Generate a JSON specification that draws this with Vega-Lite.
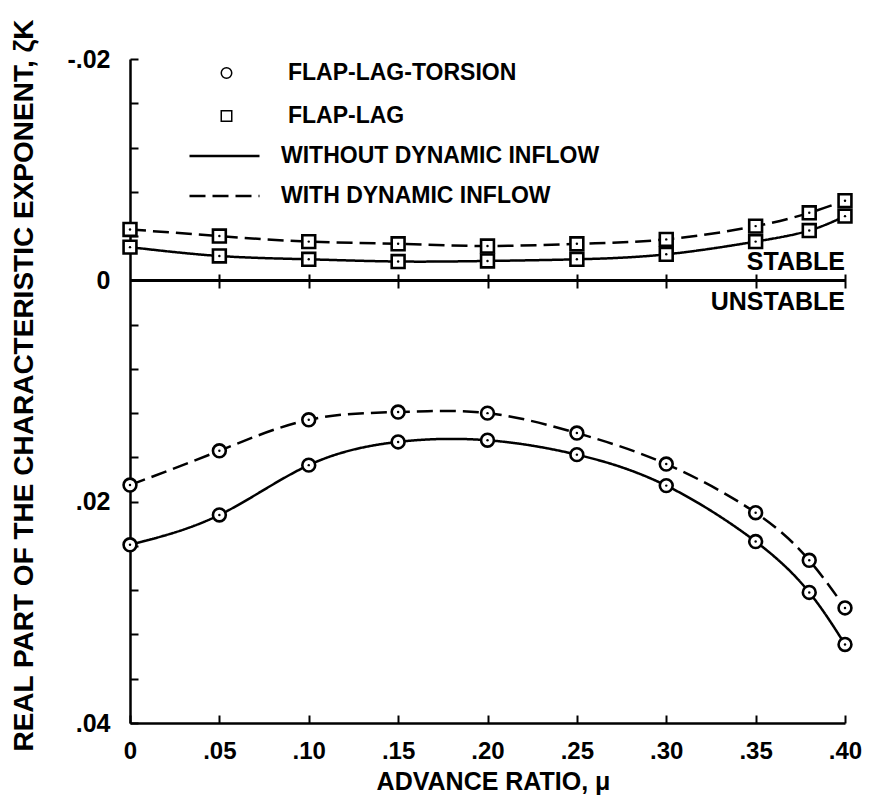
{
  "$schema": "https://vega.github.io/schema/vega-lite/v6.json",
  "width": 715,
  "height": 664,
  "autosize": {"type": "none"},
  "padding": {"left": 130, "top": 59, "right": 27, "bottom": 79},
  "background": "white",
  "config": {
    "view": {"stroke": null},
    "font": "Liberation Sans",
    "axis": {
      "domainColor": "black", "domainWidth": 2.5, "tickColor": "black", "tickWidth": 2,
      "labelColor": "black", "titleColor": "black", "labelFont": "Liberation Sans", "labelFontSize": 24,
      "labelFontWeight": "bold", "titleFont": "Liberation Sans", "titleFontSize": 25, "titleFontWeight": "bold", "grid": false
    },
    "legend": {"labelFont": "Liberation Sans", "labelColor": "black", "labelLimit": 0}
  },
  "resolve": {"axis": {"x": "independent"}},
  "datasets": {
    "curves": [
      {"mu": 0.00, "zeta": 0.0239, "model": "FLAP-LAG-TORSION", "inflow": "WITHOUT DYNAMIC INFLOW"},
      {"mu": 0.05, "zeta": 0.0212, "model": "FLAP-LAG-TORSION", "inflow": "WITHOUT DYNAMIC INFLOW"},
      {"mu": 0.10, "zeta": 0.0167, "model": "FLAP-LAG-TORSION", "inflow": "WITHOUT DYNAMIC INFLOW"},
      {"mu": 0.15, "zeta": 0.0146, "model": "FLAP-LAG-TORSION", "inflow": "WITHOUT DYNAMIC INFLOW"},
      {"mu": 0.20, "zeta": 0.01445, "model": "FLAP-LAG-TORSION", "inflow": "WITHOUT DYNAMIC INFLOW"},
      {"mu": 0.25, "zeta": 0.01575, "model": "FLAP-LAG-TORSION", "inflow": "WITHOUT DYNAMIC INFLOW"},
      {"mu": 0.30, "zeta": 0.01855, "model": "FLAP-LAG-TORSION", "inflow": "WITHOUT DYNAMIC INFLOW"},
      {"mu": 0.35, "zeta": 0.0236, "model": "FLAP-LAG-TORSION", "inflow": "WITHOUT DYNAMIC INFLOW"},
      {"mu": 0.38, "zeta": 0.0282, "model": "FLAP-LAG-TORSION", "inflow": "WITHOUT DYNAMIC INFLOW"},
      {"mu": 0.40, "zeta": 0.0329, "model": "FLAP-LAG-TORSION", "inflow": "WITHOUT DYNAMIC INFLOW"},
      {"mu": 0.00, "zeta": 0.0185, "model": "FLAP-LAG-TORSION", "inflow": "WITH DYNAMIC INFLOW"},
      {"mu": 0.05, "zeta": 0.0154, "model": "FLAP-LAG-TORSION", "inflow": "WITH DYNAMIC INFLOW"},
      {"mu": 0.10, "zeta": 0.0126, "model": "FLAP-LAG-TORSION", "inflow": "WITH DYNAMIC INFLOW"},
      {"mu": 0.15, "zeta": 0.0119, "model": "FLAP-LAG-TORSION", "inflow": "WITH DYNAMIC INFLOW"},
      {"mu": 0.20, "zeta": 0.0120, "model": "FLAP-LAG-TORSION", "inflow": "WITH DYNAMIC INFLOW"},
      {"mu": 0.25, "zeta": 0.0138, "model": "FLAP-LAG-TORSION", "inflow": "WITH DYNAMIC INFLOW"},
      {"mu": 0.30, "zeta": 0.0166, "model": "FLAP-LAG-TORSION", "inflow": "WITH DYNAMIC INFLOW"},
      {"mu": 0.35, "zeta": 0.0210, "model": "FLAP-LAG-TORSION", "inflow": "WITH DYNAMIC INFLOW"},
      {"mu": 0.38, "zeta": 0.0253, "model": "FLAP-LAG-TORSION", "inflow": "WITH DYNAMIC INFLOW"},
      {"mu": 0.40, "zeta": 0.0296, "model": "FLAP-LAG-TORSION", "inflow": "WITH DYNAMIC INFLOW"},
      {"mu": 0.00, "zeta": -0.0030, "model": "FLAP-LAG", "inflow": "WITHOUT DYNAMIC INFLOW"},
      {"mu": 0.05, "zeta": -0.0022, "model": "FLAP-LAG", "inflow": "WITHOUT DYNAMIC INFLOW"},
      {"mu": 0.10, "zeta": -0.0019, "model": "FLAP-LAG", "inflow": "WITHOUT DYNAMIC INFLOW"},
      {"mu": 0.15, "zeta": -0.0017, "model": "FLAP-LAG", "inflow": "WITHOUT DYNAMIC INFLOW"},
      {"mu": 0.20, "zeta": -0.00175, "model": "FLAP-LAG", "inflow": "WITHOUT DYNAMIC INFLOW"},
      {"mu": 0.25, "zeta": -0.0019, "model": "FLAP-LAG", "inflow": "WITHOUT DYNAMIC INFLOW"},
      {"mu": 0.30, "zeta": -0.00235, "model": "FLAP-LAG", "inflow": "WITHOUT DYNAMIC INFLOW"},
      {"mu": 0.35, "zeta": -0.0035, "model": "FLAP-LAG", "inflow": "WITHOUT DYNAMIC INFLOW"},
      {"mu": 0.38, "zeta": -0.0045, "model": "FLAP-LAG", "inflow": "WITHOUT DYNAMIC INFLOW"},
      {"mu": 0.40, "zeta": -0.0058, "model": "FLAP-LAG", "inflow": "WITHOUT DYNAMIC INFLOW"},
      {"mu": 0.00, "zeta": -0.0046, "model": "FLAP-LAG", "inflow": "WITH DYNAMIC INFLOW"},
      {"mu": 0.05, "zeta": -0.0040, "model": "FLAP-LAG", "inflow": "WITH DYNAMIC INFLOW"},
      {"mu": 0.10, "zeta": -0.0035, "model": "FLAP-LAG", "inflow": "WITH DYNAMIC INFLOW"},
      {"mu": 0.15, "zeta": -0.0033, "model": "FLAP-LAG", "inflow": "WITH DYNAMIC INFLOW"},
      {"mu": 0.20, "zeta": -0.0031, "model": "FLAP-LAG", "inflow": "WITH DYNAMIC INFLOW"},
      {"mu": 0.25, "zeta": -0.0033, "model": "FLAP-LAG", "inflow": "WITH DYNAMIC INFLOW"},
      {"mu": 0.30, "zeta": -0.0037, "model": "FLAP-LAG", "inflow": "WITH DYNAMIC INFLOW"},
      {"mu": 0.35, "zeta": -0.0049, "model": "FLAP-LAG", "inflow": "WITH DYNAMIC INFLOW"},
      {"mu": 0.38, "zeta": -0.0061, "model": "FLAP-LAG", "inflow": "WITH DYNAMIC INFLOW"},
      {"mu": 0.40, "zeta": -0.0072, "model": "FLAP-LAG", "inflow": "WITH DYNAMIC INFLOW"}
    ],
    "labels": [
      {"mu": 0.40, "zeta": 0, "label": "STABLE"},
      {"mu": 0.40, "zeta": 0, "label": "UNSTABLE"}
    ]
  },
  "layer": [
    {
      "data": {"name": "curves"},
      "mark": {"type": "line", "color": "black", "strokeWidth": 2.5, "interpolate": "natural"},
      "encoding": {
        "x": {
          "field": "mu", "type": "quantitative",
          "scale": {"domain": [0, 0.4], "nice": false, "zero": false},
          "axis": {
            "values": [0, 0.05, 0.1, 0.15, 0.2, 0.25, 0.3, 0.35, 0.4],
            "labelExpr": "datum.value == 0 ? '0' : replace(format(datum.value, '.2f'), '0.', '.')",
            "tickSize": -8, "labelPadding": 24, "labelFlush": false, "labelBound": false, "labelOverlap": false,
            "title": "ADVANCE RATIO, μ", "titleX": 363, "titleY": 58, "titleBaseline": "middle", "titleAlign": "center"
          }
        },
        "y": {
          "field": "zeta", "type": "quantitative",
          "scale": {"domain": [-0.02, 0.04], "reverse": true, "nice": false, "zero": false},
          "axis": {
            "values": [-0.02, -0.016, -0.012, -0.008, -0.004, 0, 0.004, 0.008, 0.012, 0.016, 0.02, 0.024, 0.028, 0.032, 0.036, 0.04],
            "labelExpr": "abs(datum.value + 0.02) < 1e-9 ? '-.02' : abs(datum.value) < 1e-9 ? '0' : abs(datum.value - 0.02) < 1e-9 ? '.02' : abs(datum.value - 0.04) < 1e-9 ? '.04' : ''",
            "labelFontSize": 25, "tickSize": -8, "labelPadding": 28, "labelOverlap": false, "labelFlush": false, "labelBound": false,
            "title": "REAL PART OF THE CHARACTERISTIC EXPONENT, ζK", "titleFontSize": 28, "titleX": -106, "titleY": 326, "titleBaseline": "middle", "titleAlign": "center"
          }
        },
        "detail": {"field": "model", "type": "nominal"},
        "strokeDash": {
          "field": "inflow", "type": "nominal",
          "scale": {"domain": ["WITHOUT DYNAMIC INFLOW", "WITH DYNAMIC INFLOW"], "range": [[1, 0], [16, 7]]},
          "legend": {
            "title": null, "orient": "none", "legendX": 58, "legendY": 86, "symbolType": "stroke", "symbolSize": 4900,
            "symbolStrokeWidth": 2.5, "symbolStrokeColor": "black", "labelFontSize": 23, "labelFontWeight": "bold",
            "labelOffset": 20, "clipHeight": 22, "rowPadding": 17, "padding": 0, "labelLimit": 0
          }
        }
      }
    },
    {
      "data": {"name": "curves"},
      "mark": {"type": "rule", "color": "black", "strokeWidth": 2.5},
      "encoding": {
        "y": {"datum": 0, "type": "quantitative"}
      }
    },
    {
      "data": {"name": "curves"},
      "mark": {"type": "point", "filled": false, "color": "black", "fill": "white", "fillOpacity": 1, "stroke": "black", "strokeWidth": 2.6, "size": 165, "opacity": 1},
      "encoding": {
        "x": {"field": "mu", "type": "quantitative", "axis": null},
        "y": {"field": "zeta", "type": "quantitative"},
        "shape": {
          "field": "model", "type": "nominal",
          "scale": {"domain": ["FLAP-LAG-TORSION", "FLAP-LAG"], "range": ["circle", "square"]},
          "legend": {
            "title": null, "orient": "none", "legendX": 85, "legendY": 3, "symbolSize": 110,
            "labelFontSize": 23, "labelFontWeight": "bold", "labelLimit": 0,
            "labelOffset": 50, "clipHeight": 22, "rowPadding": 20, "padding": 0,
            "encode": {"symbols": {"update": {"stroke": {"value": "black"}, "strokeWidth": {"value": 1.6}, "fill": {"value": "white"}, "opacity": {"value": 1}}}}
          }
        }
      }
    },
    {
      "data": {"name": "curves"},
      "mark": {"type": "circle", "color": "black", "size": 6, "opacity": 1},
      "encoding": {
        "x": {"field": "mu", "type": "quantitative", "axis": null},
        "y": {"field": "zeta", "type": "quantitative"}
      }
    },
    {
      "data": {"name": "labels"},
      "transform": [{"filter": "datum.label == 'STABLE'"}],
      "mark": {"type": "text", "align": "right", "baseline": "alphabetic", "dy": -10, "fontSize": 25, "fontWeight": "bold", "font": "Liberation Sans", "color": "black"},
      "encoding": {
        "x": {
          "field": "mu", "type": "quantitative",
          "axis": {
            "orient": "top", "offset": -229, "domain": false, "labels": false, "title": null, "ticks": true, "tickSize": 14,
            "values": [0.05, 0.1, 0.15, 0.2, 0.25, 0.3, 0.35, 0.4]
          }
        },
        "y": {"field": "zeta", "type": "quantitative"},
        "text": {"field": "label", "type": "nominal"}
      }
    },
    {
      "data": {"name": "labels"},
      "transform": [{"filter": "datum.label == 'UNSTABLE'"}],
      "mark": {"type": "text", "align": "right", "baseline": "top", "dy": 10, "fontSize": 25, "fontWeight": "bold", "font": "Liberation Sans", "color": "black"},
      "encoding": {
        "x": {"field": "mu", "type": "quantitative", "axis": null},
        "y": {"field": "zeta", "type": "quantitative"},
        "text": {"field": "label", "type": "nominal"}
      }
    }
  ]
}
